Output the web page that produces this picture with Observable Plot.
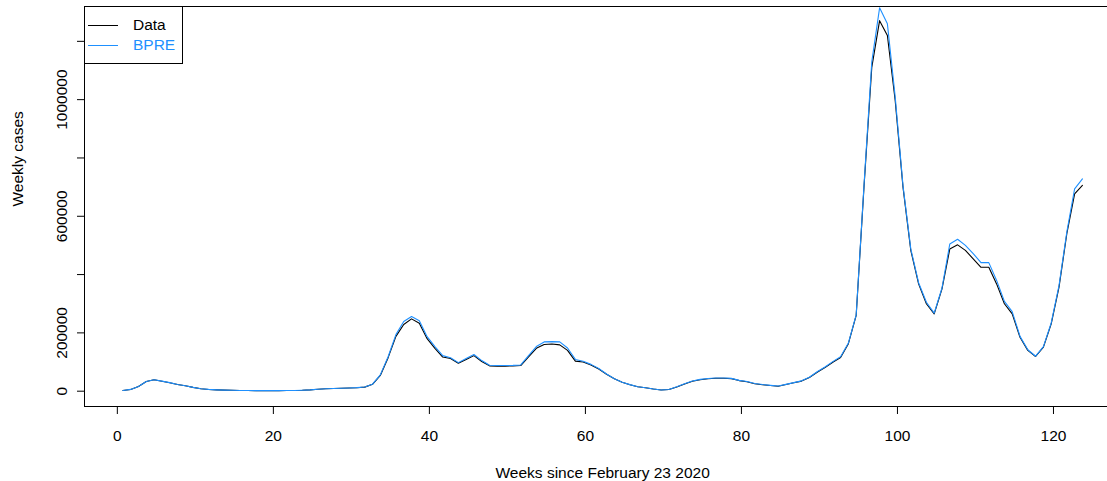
<!DOCTYPE html>
<html><head><meta charset="utf-8">
<script src="https://cdn.jsdelivr.net/npm/d3@7"></script>
<script src="https://cdn.jsdelivr.net/npm/@observablehq/plot@0.6"></script>
<style>
html,body{margin:0;padding:0;background:#fff;}
#wrap{position:relative;width:1107px;height:481px;overflow:hidden;font-family:"Liberation Sans",Arial,sans-serif;}
#legend{position:absolute;left:84px;top:6px;width:99px;height:58px;border:1px solid #000;background:#fff;box-sizing:border-box;font-size:15.5px;}
#legend .row{position:absolute;left:0;height:20px;display:flex;align-items:center;}
#legend .sw{display:inline-block;width:30px;height:0;border-top:1px solid;margin-left:3px;margin-right:15px;}
</style></head><body><div id="wrap"></div>
<script>
const weeks = [0.71,1.71,2.71,3.71,4.71,5.71,6.71,7.71,8.71,9.71,10.71,11.71,12.71,13.71,14.71,15.71,16.71,17.71,18.71,19.71,20.71,21.71,22.71,23.71,24.71,25.71,26.71,27.71,28.71,29.71,30.71,31.71,32.71,33.71,34.71,35.71,36.71,37.71,38.71,39.71,40.71,41.71,42.71,43.71,44.71,45.71,46.71,47.71,48.71,49.71,50.71,51.71,52.71,53.71,54.71,55.71,56.71,57.71,58.71,59.71,60.71,61.71,62.71,63.71,64.71,65.71,66.71,67.71,68.71,69.71,70.71,71.71,72.71,73.71,74.71,75.71,76.71,77.71,78.71,79.71,80.71,81.71,82.71,83.71,84.71,85.71,86.71,87.71,88.71,89.71,90.71,91.71,92.71,93.71,94.71,95.71,96.71,97.71,98.71,99.71,100.71,101.71,102.71,103.71,104.71,105.71,106.71,107.71,108.71,109.71,110.71,111.71,112.71,113.71,114.71,115.71,116.71,117.71,118.71,119.71,120.71,121.71,122.71,123.71];
const dataCases = [2400,6000,16000,33000,39000,34000,29000,23000,18500,13000,8500,6000,4500,3500,3000,2600,2300,2100,2000,2000,2100,2200,2500,3200,4500,6500,8200,9200,10000,11000,12000,14000,23700,54000,115000,188000,229000,248000,233000,180000,147000,117000,112000,96000,109000,122000,102000,87000,86000,86000,86500,88000,118000,147000,160000,162000,159000,140000,103000,100000,90000,76000,58000,42500,30500,22000,15000,11700,7500,4000,5800,14400,24700,34000,39500,42500,44200,44200,43000,36400,32200,25700,22300,19500,17200,23000,28800,34600,47000,65000,81000,99500,115600,163000,260000,700000,1111000,1271000,1220000,997000,700000,483000,368000,300000,265000,351000,488000,502000,483000,454000,425000,425000,368000,300000,265000,185000,140000,119000,151000,231000,357000,540000,677000,706000];
const bpreCases = [2400,6100,16300,33500,39500,34400,29300,23200,18700,13100,8600,6100,4550,3500,3000,2600,2300,2100,2000,2000,2100,2200,2550,3300,4600,6600,8300,9300,10100,11200,12200,14300,24000,56000,118000,194000,239000,256000,242000,187000,153000,122000,115000,98000,112000,126000,105000,89000,88000,88000,88500,90000,122000,153000,169000,170000,169000,148000,109000,103000,92000,78000,59000,43000,31000,22500,15500,12000,7800,4200,6000,15000,25500,35000,40500,43500,45000,45000,44000,37000,33000,26200,22800,20000,17600,23500,29500,35500,48000,66500,83000,101500,118000,165000,262000,705000,1130000,1315000,1260000,1010000,705000,488000,372000,305000,268000,354000,505000,521000,500000,472000,441000,441000,380000,308000,273000,188000,142000,120000,153000,234000,362000,546000,694000,728000];
const xTicks = [0,20,40,60,80,100,120];
const yTicks = [0,200000,400000,600000,800000,1000000,1200000];
const yLabels = [0,200000,600000,1000000];
const seriesNames = ["Data","BPRE"];
const seriesColors = ["#000000","#1E90FF"];
const xTitle = "Weeks since February 23 2020";
const yTitle = "Weekly cases";

const rowsData = weeks.map((w,i)=>({week:w, cases:dataCases[i]}));
const rowsBpre = weeks.map((w,i)=>({week:w, cases:bpreCases[i]}));

const chart = Plot.plot({
  width: 1107, height: 481,
  marginLeft: 84, marginRight: -13.3, marginTop: 6, marginBottom: 75,
  style: {fontFamily: "'Liberation Sans', Arial, sans-serif", fontSize: "15.5px", background: "#fff", overflow: "hidden", color: "#000"},
  x: {domain: [-4.21, 128.63], label: null},
  y: {domain: [-52500, 1319500], label: null},
  marks: [
    Plot.axisX({ticks: xTicks, tickSize: 8, tickPadding: 15, tickFormat: d => String(d), label: null}),
    Plot.axisY({ticks: yTicks, tickSize: 7, tickFormat: () => "", label: null}),
    Plot.text(yLabels, {y: d => d, frameAnchor: "left", dx: -22, rotate: -90, text: d => String(d), textAnchor: "middle", lineAnchor: "middle", fill: "#000"}),
    Plot.text([yTitle], {frameAnchor: "left", dx: -66, rotate: -90, text: d => d, lineAnchor: "middle", fill: "#000"}),
    Plot.text([xTitle], {frameAnchor: "bottom", dy: 67, text: d => d, lineAnchor: "middle", fill: "#000"}),
    Plot.line(rowsData, {x: "week", y: "cases", stroke: seriesColors[0], strokeWidth: 1.1}),
    Plot.line(rowsBpre, {x: "week", y: "cases", stroke: seriesColors[1], strokeWidth: 1.1}),
    Plot.frame({stroke: "#000"})
  ]
});
const wrap = document.getElementById("wrap");
wrap.appendChild(chart);

const legend = document.createElement("div");
legend.id = "legend";
seriesNames.forEach((name, i) => {
  const row = document.createElement("div");
  row.className = "row";
  row.style.top = (i === 0 ? 8 : 28) + "px";
  const sw = document.createElement("span");
  sw.className = "sw";
  sw.style.borderTopColor = seriesColors[i];
  const t = document.createElement("span");
  t.textContent = name;
  t.style.color = seriesColors[i];
  row.appendChild(sw); row.appendChild(t);
  legend.appendChild(row);
});
wrap.appendChild(legend);
</script>
</body></html>
